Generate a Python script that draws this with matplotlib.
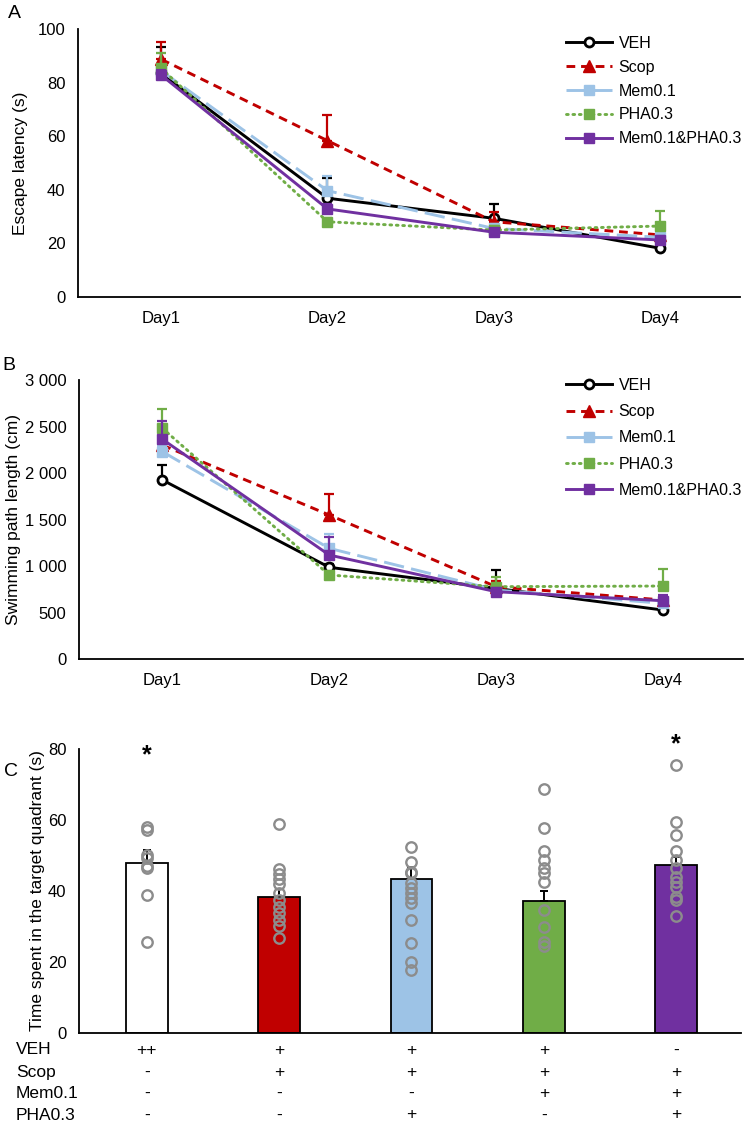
import matplotlib
matplotlib.use("Agg")
import matplotlib.pyplot as plt
import numpy as np

plt.rcParams['font.family'] = ['Liberation Sans', 'DejaVu Sans']
plt.rcParams['font.size'] = 12

# 群名と色
groups = ["VEH", "Scop", "Mem0.1", "PHA0.3", "Mem0.1&PHA0.3"]
colors = ["black", "#C00000", "#9DC3E6", "#70AD47", "#7030A0"]
days = ["Day1", "Day2", "Day3", "Day4"]

# A: 逃避潜時 (s)
latency = {
    "VEH": [83.5, 36.9, 29.4, 18.2],
    "Scop": [88.8, 58.4, 28.1, 23.2],
    "Mem0.1": [84.5, 39.7, 25.6, 22.3],
    "PHA0.3": [85.4, 28.1, 25.0, 26.5],
    "Mem0.1&PHA0.3": [82.9, 32.9, 24.2, 21.3],
}
latency_err = {
    "VEH": [10.0, 7.4, 5.3, 1.5],
    "Scop": [6.6, 9.7, 3.8, 1.5],
    "Mem0.1": [6.5, 5.6, 1.5, 1.5],
    "PHA0.3": [5.6, 1.5, 1.5, 5.7],
    "Mem0.1&PHA0.3": [2.0, 2.0, 1.0, 1.5],
}

# B: 遊泳距離 (cm)
path = {
    "VEH": [1926, 988, 762, 529],
    "Scop": [2300, 1550, 780, 637],
    "Mem0.1": [2230, 1192, 744, 601],
    "PHA0.3": [2481, 905, 780, 787],
    "Mem0.1&PHA0.3": [2363, 1120, 726, 629],
}
path_err = {
    "VEH": [161, 40, 197, 30],
    "Scop": [80, 222, 60, 40],
    "Mem0.1": [60, 154, 40, 40],
    "PHA0.3": [207, 40, 107, 183],
    "Mem0.1&PHA0.3": [200, 197, 40, 60],
}
path_ticks = [0, 500, 1000, 1500, 2000, 2500, 3000]
path_ticklabels = ["0", "500", "1 000", "1 500", "2 000", "2 500", "3 000"]

# C: ターゲット象限滞在時間 (s)
bar_mean = [48.0, 38.3, 43.4, 37.2, 47.2]
bar_err = [3.6, 2.2, 3.3, 2.8, 2.5]
points = [
    [58.2, 57.3, 50.2, 49.2, 47.0, 46.5, 38.9, 25.7],
    [58.8, 46.2, 44.7, 43.3, 41.9, 39.4, 37.5, 35.6, 33.7, 31.8, 30.1, 26.7],
    [52.3, 48.3, 45.5, 45.0, 42.2, 40.8, 39.3, 37.9, 36.5, 31.8, 25.2, 19.9, 17.7],
    [68.8, 57.7, 51.3, 48.8, 46.4, 45.0, 42.6, 34.6, 29.7, 25.7, 24.5],
    [75.6, 59.6, 55.8, 51.3, 48.8, 46.4, 44.0, 42.6, 41.2, 38.4, 37.6, 32.9],
]
star_y = [78.4, None, None, None, 81.5]
table_rows = ["VEH", "Scop", "Mem0.1", "PHA0.3"]
table_vals = [
    ["++", "+", "+", "+", "-"],
    ["-", "+", "+", "+", "+"],
    ["-", "-", "-", "+", "+"],
    ["-", "-", "+", "-", "+"],
]

styles = {
    "VEH": dict(ls="-", marker="o", ms=6.5, mfc="white", mew=2),
    "Scop": dict(ls=(0, (3, 2)), marker="^", ms=8.5),
    "Mem0.1": dict(ls=(0, (7, 2.5)), marker="s", ms=7.5),
    "PHA0.3": dict(ls=(0, (0.6, 1.6)), marker="s", ms=7.5, dash_capstyle="round"),
    "Mem0.1&PHA0.3": dict(ls="-", marker="s", ms=7.5),
}

W, H = 749, 1122
fig = plt.figure(figsize=(W / 100, H / 100), dpi=100)


def px_axes(l, t, r, b):
    return fig.add_axes([l / W, 1 - b / H, (r - l) / W, (b - t) / H])


def line_panel(ax, data, err, leg_top, spacing):
    x = np.arange(len(days))
    for g, c in zip(groups, colors):
        st = styles[g]
        ax.errorbar(x, data[g], yerr=[np.zeros(len(days)), err[g]], fmt="none",
                    ecolor=c, elinewidth=1.6, capsize=3.5, capthick=1.6)
        ax.plot(x, data[g], color=c, lw=2.1, mec=c, label=g, **st)
    ax.set_xticks(x)
    ax.set_xticklabels(days)
    ax.set_xlim(-0.5, 3.48)
    for s in ["top", "right"]:
        ax.spines[s].set_visible(False)
    for s in ["left", "bottom"]:
        ax.spines[s].set_linewidth(1.3)
    ax.tick_params(axis="x", length=0, pad=10, labelsize=12)
    ax.tick_params(axis="y", length=0, pad=9, labelsize=12)
    ax.legend(loc="upper left", bbox_to_anchor=(566 / W, 1 - leg_top / H),
              bbox_transform=fig.transFigure, frameon=False, handlelength=2.9,
              handletextpad=0.4, labelspacing=spacing, borderpad=0, borderaxespad=0,
              fontsize=11.5)


# パネルA
axA = px_axes(78, 29.3, 740, 297)
line_panel(axA, latency, latency_err, 36, 0.55)
axA.set_ylim(0, 100)
axA.set_yticks(range(0, 101, 20))
axA.set_ylabel("Escape latency (s)", fontsize=12.5, labelpad=7)
fig.text(8 / W, 1 - 13 / H, "A", fontsize=14, va="center", ha="left")

# パネルB
axB = px_axes(79, 380, 743, 659.3)
line_panel(axB, path, path_err, 378, 0.7)
axB.set_ylim(0, 3000)
axB.set_yticks(path_ticks)
axB.set_yticklabels(path_ticklabels)
axB.set_ylabel("Swimming path length (cm)", fontsize=12.5, labelpad=3)
fig.text(2 / W, 1 - 365 / H, "B", fontsize=14, va="center", ha="left")

# パネルC
axC = px_axes(79, 749.3, 740.5, 1032.7)
xc = np.arange(len(groups))
axC.bar(xc, bar_mean, width=0.314, color=["white"] + colors[1:], edgecolor="black",
        linewidth=1.3, zorder=2)
axC.errorbar(xc, bar_mean, yerr=[np.zeros(len(groups)), bar_err], fmt="none",
             ecolor="black", elinewidth=1.4, capsize=3, capthick=1.4, zorder=3)
for i, pts in enumerate(points):
    axC.plot([xc[i]] * len(pts), pts, ls="none", marker="o", ms=7.5, mfc="none",
             mec="#8c8c8c", mew=1.7, zorder=4)
for i, sy in enumerate(star_y):
    if sy is not None:
        axC.text(xc[i], sy, "*", ha="center", va="center", fontsize=18,
                 fontweight="bold", clip_on=False)
axC.set_xlim(-0.513, 4.487)
axC.set_ylim(0, 80)
axC.set_yticks(range(0, 81, 20))
axC.set_xticks([])
for s in ["top", "right"]:
    axC.spines[s].set_visible(False)
for s in ["left", "bottom"]:
    axC.spines[s].set_linewidth(1.3)
axC.tick_params(axis="y", length=0, pad=9, labelsize=12)
axC.set_ylabel("Time spent in the target quadrant (s)", fontsize=12.5, labelpad=2)
fig.text(4 / W, 1 - 771 / H, "C", fontsize=14, va="center", ha="left")

# 下の表
row_y = [1050, 1072, 1093.5, 1115]
for r, (name, yy) in enumerate(zip(table_rows, row_y)):
    fig.text(16 / W, 1 - yy / H, name, fontsize=12.5, ha="left", va="center")
    for i, v in enumerate(table_vals[r]):
        xf = fig.transFigure.inverted().transform(axC.transData.transform((xc[i], 0)))[0]
        fig.text(xf, 1 - yy / H, v, fontsize=12.5, ha="center", va="center")

fig.savefig("out.png", dpi=100)
